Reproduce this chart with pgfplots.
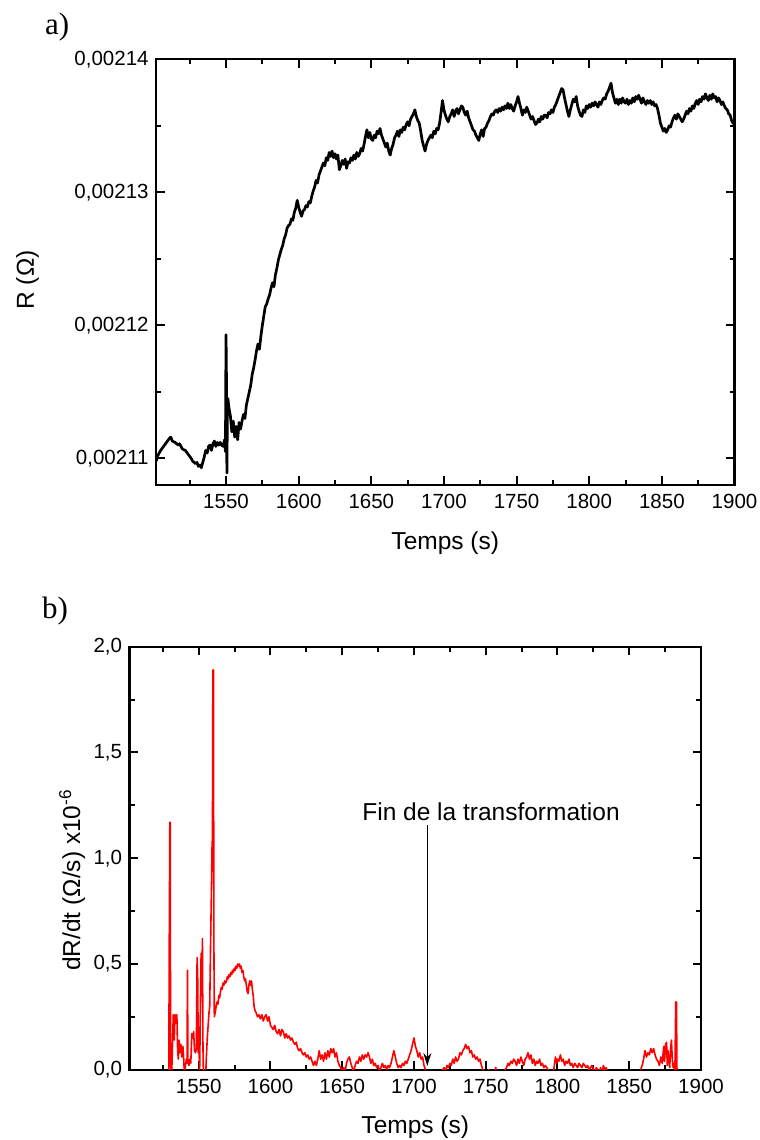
\documentclass[border=0pt]{standalone}
\usepackage{fontspec}
\setmainfont{Liberation Sans}
\newfontfamily\serifa{Liberation Serif}
\usepackage{pgfplots}
\pgfplotsset{compat=1.18}
\usetikzlibrary{arrows.meta}
\begin{document}
\begin{tikzpicture}
\path[use as bounding box] (0pt,0pt) rectangle (760pt,1140pt);
\pgfplotsset{
  myaxis/.style={
    scale only axis, anchor=south west,
    line width=2.2pt,
    axis line style={line width=2.2pt},
    tick style={black, line width=2pt},
    major tick length=8.5pt, minor tick length=5pt,
    tick align=inside,
    ticklabel style={font=\fontsize{20.5}{24}\selectfont},
    label style={font=\fontsize{24.5}{29}\selectfont},
    /pgf/number format/assume math mode=true,
    /pgf/number format/use comma,
    /pgf/number format/1000 sep={},
    xtick={1550,1600,...,1900},
    minor xtick={1525,1575,...,1875},
    xmin=1501.8, xmax=1900,
    x tick label style={yshift=-5pt},
    y tick label style={xshift=-3pt},
  }
}
% ---------------- a) ----------------
\node[anchor=base west, inner sep=0pt, font=\serifa\fontsize{31}{36}\selectfont] at (45pt,1105pt) {a)};
\begin{axis}[myaxis, at={(156pt,655pt)}, width=578.5pt, height=425.7pt,
  ymin=0.002108, ymax=0.00214,
  ytick={0.00211,0.00212,0.00213,0.00214},
  minor ytick={0.002115,0.002125,0.002135},
  scaled y ticks=false,
  yticklabel style={/pgf/number format/fixed, /pgf/number format/precision=5},
  xlabel={Temps (s)}, ylabel={R (Ω)},
  xlabel style={at={(axis description cs:0.5,-0.136)}, anchor=center},
  ylabel style={at={(axis description cs:-0.2222,0.4815)}, anchor=center},
]
\addplot[black, line width=2.7pt, line join=round] coordinates {
(1502,0.0021098) (1503,0.0021102) (1505,0.0021106) (1507,0.0021109) (1509,0.0021112) (1511,0.0021115)
(1512,0.0021116) (1513,0.0021113) (1515,0.0021112) (1517,0.0021110) (1518,0.0021111) (1520,0.0021107)
(1522,0.0021106) (1524,0.0021103) (1526,0.0021100) (1527,0.0021098) (1529,0.0021096) (1530,0.0021097)
(1531,0.0021094) (1532,0.0021095) (1533,0.0021093) (1535,0.0021101) (1536,0.0021106) (1537,0.0021104)
(1538,0.0021109) (1539,0.0021110) (1540,0.0021106) (1541,0.0021111) (1542,0.0021113) (1543,0.0021109)
(1544,0.0021112) (1545,0.0021110) (1546,0.0021112) (1547,0.0021110) (1548,0.0021109) (1549,0.0021114)
(1549.6,0.0021105) (1550.0,0.0021193) (1550.3,0.0021160) (1550.6,0.0021089) (1550.9,0.0021130) (1551.3,0.0021145)
(1552,0.0021138) (1553,0.0021132) (1554,0.0021120) (1555,0.0021128) (1556,0.0021116) (1557,0.0021124)
(1558,0.0021114) (1559,0.0021127) (1560,0.0021122) (1561,0.0021128) (1562,0.0021133) (1563,0.0021130)
(1564,0.0021140) (1565,0.0021145) (1566,0.0021150) (1567,0.0021155) (1568,0.0021163) (1569,0.0021168)
(1570,0.0021174) (1571,0.0021181) (1572,0.0021186) (1573,0.0021182) (1574,0.0021192) (1575,0.0021200)
(1576,0.0021207) (1577,0.0021214) (1578,0.0021216) (1579,0.0021220) (1580,0.0021223) (1581,0.0021228)
(1582,0.0021232) (1583,0.0021229) (1584,0.0021238) (1585,0.0021243) (1586,0.0021249) (1587,0.0021253)
(1588,0.0021257) (1589,0.0021260) (1590,0.0021265) (1591,0.0021268) (1592,0.0021273) (1593,0.0021275)
(1594,0.0021276) (1595,0.0021280) (1596,0.0021279) (1597,0.0021285) (1598,0.0021288) (1599,0.0021294)
(1600,0.0021289) (1601,0.0021285) (1602,0.0021282) (1603,0.0021286) (1604,0.0021287) (1605,0.0021290)
(1606,0.0021289) (1607,0.0021293) (1608,0.0021292) (1609,0.0021297) (1610,0.0021301) (1611,0.0021304)
(1612,0.0021309) (1613,0.0021307) (1614,0.0021313) (1615,0.0021316) (1616,0.0021319) (1617,0.0021322)
(1618,0.0021320) (1619,0.0021326) (1620,0.0021324) (1621,0.0021330) (1622,0.0021327) (1623,0.0021331)
(1624,0.0021326) (1625,0.0021329) (1626,0.0021325) (1627,0.0021328) (1628,0.0021317) (1629,0.0021320)
(1630,0.0021324) (1631,0.0021321) (1632,0.0021325) (1633,0.0021318) (1634,0.0021323) (1635,0.0021322)
(1636,0.0021326) (1637,0.0021324) (1638,0.0021328) (1639,0.0021325) (1640,0.0021330) (1641,0.0021327)
(1642,0.0021329) (1643,0.0021333) (1644,0.0021331) (1645,0.0021336) (1646,0.0021342) (1647,0.0021347)
(1648,0.0021341) (1649,0.0021345) (1650,0.0021340) (1651,0.0021339) (1652,0.0021343) (1653,0.0021341)
(1654,0.0021346) (1655,0.0021344) (1656,0.0021348) (1657,0.0021343) (1658,0.0021340) (1659,0.0021337)
(1660,0.0021334) (1661,0.0021337) (1662,0.0021331) (1663,0.0021328) (1664,0.0021333) (1665,0.0021336)
(1666,0.0021341) (1667,0.0021343) (1668,0.0021346) (1669,0.0021342) (1670,0.0021347) (1671,0.0021345)
(1672,0.0021349) (1673,0.0021347) (1674,0.0021351) (1675,0.0021353) (1676,0.0021350) (1677,0.0021355)
(1678,0.0021357) (1679,0.0021359) (1680,0.0021362) (1681,0.0021357) (1682,0.0021354) (1683,0.0021352)
(1684,0.0021346) (1685,0.0021339) (1686,0.0021335) (1687,0.0021331) (1688,0.0021336) (1689,0.0021339)
(1690,0.0021341) (1691,0.0021343) (1692,0.0021341) (1693,0.0021346) (1694,0.0021344) (1695,0.0021348)
(1696,0.0021347) (1697,0.0021352) (1698,0.0021360) (1699,0.0021369) (1700,0.0021362) (1701,0.0021358)
(1702,0.0021355) (1703,0.0021353) (1704,0.0021357) (1705,0.0021359) (1706,0.0021362) (1707,0.0021357)
(1708,0.0021361) (1709,0.0021363) (1710,0.0021359) (1711,0.0021362) (1712,0.0021365) (1713,0.0021364)
(1714,0.0021360) (1715,0.0021358) (1716,0.0021361) (1717,0.0021356) (1718,0.0021353) (1719,0.0021350)
(1720,0.0021347) (1721,0.0021346) (1722,0.0021343) (1723,0.0021341) (1724,0.0021339) (1725,0.0021344)
(1726,0.0021347) (1727,0.0021342) (1728,0.0021348) (1729,0.0021349) (1730,0.0021352) (1731,0.0021354)
(1732,0.0021357) (1733,0.0021359) (1734,0.0021358) (1735,0.0021361) (1736,0.0021362) (1737,0.0021360)
(1738,0.0021363) (1739,0.0021361) (1740,0.0021364) (1741,0.0021362) (1742,0.0021365) (1743,0.0021363)
(1744,0.0021367) (1745,0.0021363) (1746,0.0021366) (1747,0.0021363) (1748,0.0021361) (1749,0.0021365)
(1750,0.0021368) (1751,0.0021372) (1752,0.0021367) (1753,0.0021363) (1754,0.0021358) (1755,0.0021362)
(1756,0.0021360) (1757,0.0021364) (1758,0.0021361) (1759,0.0021358) (1760,0.0021355) (1761,0.0021357)
(1762,0.0021354) (1763,0.0021351) (1764,0.0021352) (1765,0.0021355) (1766,0.0021353) (1767,0.0021357)
(1768,0.0021355) (1769,0.0021358) (1770,0.0021358) (1771,0.0021356) (1772,0.0021360) (1773,0.0021359)
(1774,0.0021362) (1775,0.0021360) (1776,0.0021364) (1777,0.0021366) (1778,0.0021369) (1779,0.0021372)
(1780,0.0021375) (1781,0.0021378) (1782,0.0021377) (1783,0.0021371) (1784,0.0021366) (1785,0.0021361)
(1786,0.0021357) (1787,0.0021362) (1788,0.0021366) (1789,0.0021370) (1790,0.0021368) (1791,0.0021372)
(1792,0.0021365) (1793,0.0021361) (1794,0.0021358) (1795,0.0021357) (1796,0.0021362) (1797,0.0021360)
(1798,0.0021365) (1799,0.0021363) (1800,0.0021366) (1801,0.0021364) (1802,0.0021367) (1803,0.0021365)
(1804,0.0021368) (1805,0.0021366) (1806,0.0021364) (1807,0.0021368) (1808,0.0021366) (1809,0.0021369)
(1810,0.0021371) (1811,0.0021370) (1812,0.0021374) (1813,0.0021376) (1814,0.0021379) (1815,0.0021382)
(1816,0.0021375) (1817,0.0021371) (1818,0.0021367) (1819,0.0021370) (1820,0.0021366) (1821,0.0021370)
(1822,0.0021367) (1823,0.0021371) (1824,0.0021368) (1825,0.0021367) (1826,0.0021370) (1827,0.0021366)
(1828,0.0021369) (1829,0.0021367) (1830,0.0021371) (1831,0.0021368) (1832,0.0021372) (1833,0.0021370)
(1834,0.0021373) (1835,0.0021370) (1836,0.0021367) (1837,0.0021371) (1838,0.0021368) (1839,0.0021366)
(1840,0.0021369) (1841,0.0021367) (1842,0.0021369) (1843,0.0021366) (1844,0.0021368) (1845,0.0021365)
(1846,0.0021366) (1847,0.0021363) (1848,0.0021358) (1849,0.0021352) (1850,0.0021349) (1851,0.0021346)
(1852,0.0021348) (1853,0.0021345) (1854,0.0021347) (1855,0.0021350) (1856,0.0021349) (1857,0.0021353)
(1858,0.0021356) (1859,0.0021358) (1860,0.0021355) (1861,0.0021359) (1862,0.0021357) (1863,0.0021355)
(1864,0.0021353) (1865,0.0021355) (1866,0.0021358) (1867,0.0021361) (1868,0.0021359) (1869,0.0021363)
(1870,0.0021361) (1871,0.0021365) (1872,0.0021363) (1873,0.0021367) (1874,0.0021369) (1875,0.0021366)
(1876,0.0021370) (1877,0.0021368) (1878,0.0021372) (1879,0.0021370) (1880,0.0021374) (1881,0.0021371)
(1882,0.0021369) (1883,0.0021373) (1884,0.0021370) (1885,0.0021374) (1886,0.0021371) (1887,0.0021372)
(1888,0.0021368) (1889,0.0021371) (1890,0.0021369) (1891,0.0021366) (1892,0.0021368) (1893,0.0021365)
(1894,0.0021363) (1895,0.0021362) (1896,0.0021359) (1897,0.0021358) (1898,0.0021354) (1899,0.0021352)
(1900,0.0021351)
};
\end{axis}
% ---------------- b) ----------------
\node[anchor=base west, inner sep=0pt, font=\serifa\fontsize{31}{36}\selectfont] at (42pt,521pt) {b)};
\begin{axis}[myaxis, at={(129.5pt,70.3pt)}, width=571.5pt, height=423pt,
  ymin=0, ymax=2,
  ytick={0,0.5,1,1.5,2}, minor ytick={0.25,0.75,1.25,1.75},
  yticklabel style={/pgf/number format/fixed, /pgf/number format/fixed zerofill, /pgf/number format/precision=1},
  xlabel={Temps (s)}, ylabel={dR/dt (Ω/s) x10\textsuperscript{-6}},
  xlabel style={at={(axis description cs:0.5,-0.137)}, anchor=center},
  ylabel style={at={(axis description cs:-0.1002,0.448)}, anchor=center},
]
\addplot[red, line width=1.6pt, line join=round] coordinates {
(1528,-0.05) (1529.2,0.0) (1529.5,0.6) (1529.9,1.17) (1530.2,1.17) (1530.4,0.10) (1530.8,-0.1)
(1531.5,0.05) (1532.3,0.26) (1533,0.14) (1533.5,0.26) (1534.2,0.22) (1534.8,0.26) (1535.3,0.10)
(1535.8,0.05) (1536.3,0.14) (1537,0.08) (1537.6,0.12) (1538.3,0.06) (1539,0.11) (1539.6,0.05)
(1540.2,-0.05) (1540.8,0.02) (1541.4,0.05) (1541.9,0.03) (1542.2,0.47) (1542.5,0.05) (1543.2,0.02)
(1543.8,0.05) (1544.5,0.03) (1545.2,0.17) (1545.9,0.15) (1546.5,0.18) (1547.1,0.09) (1547.8,0.08)
(1548.4,0.10) (1548.9,0.53) (1549.3,0.45) (1549.7,0.08) (1550.2,0.20) (1550.6,-0.05) (1551.2,0.30)
(1551.7,0.55) (1552.2,0.35) (1552.6,0.62) (1553.0,0.10) (1553.5,-0.1) (1554.5,-0.1) (1555.3,0.05)
(1556,0.15) (1556.5,0.20) (1557.2,0.27) (1557.7,0.30) (1558.3,0.60) (1558.9,0.85) (1559.3,1.05)
(1559.6,1.10) (1559.9,1.89) (1560.3,1.89) (1560.6,0.60) (1560.9,0.25) (1561.5,0.27) (1562.2,0.30)
(1562.8,0.32) (1563.4,0.31) (1564,0.35) (1564.6,0.34) (1565.2,0.37) (1565.8,0.39) (1566.4,0.38)
(1567,0.41) (1567.6,0.40) (1568.2,0.42) (1568.8,0.41) (1569.4,0.42) (1570,0.44) (1570.6,0.43)
(1571.2,0.45) (1571.8,0.44) (1572.4,0.46) (1573,0.45) (1573.6,0.47) (1574.2,0.46) (1574.8,0.48)
(1575.4,0.47) (1576,0.49) (1576.6,0.48) (1577.2,0.50) (1577.8,0.49) (1578.4,0.50) (1579,0.48)
(1579.6,0.49) (1580.2,0.46) (1580.8,0.47) (1581.4,0.44) (1582,0.42) (1582.6,0.43) (1583.2,0.40)
(1583.8,0.37) (1584.4,0.36) (1585,0.40) (1585.6,0.42) (1586.2,0.40) (1586.8,0.42) (1587.4,0.38)
(1588,0.35) (1588.6,0.30) (1589.2,0.28) (1590,0.27) (1591,0.25) (1592,0.26) (1593,0.24) (1594,0.26)
(1595,0.23) (1596,0.25) (1597,0.26) (1598,0.23) (1599,0.25) (1600,0.21) (1601,0.20) (1602,0.19)
(1603,0.21) (1604,0.18) (1605,0.17) (1606,0.19) (1607,0.16) (1608,0.19) (1609,0.18) (1610,0.15)
(1611,0.17) (1612,0.15) (1613,0.16) (1614,0.14) (1615,0.15) (1616,0.13) (1617,0.12) (1618,0.13)
(1619,0.10) (1620,0.09) (1621,0.10) (1622,0.08) (1623,0.07) (1624,0.08) (1625,0.06) (1626,0.07)
(1627,0.05) (1628,0.06) (1629,0.04) (1630,0.02) (1631,0.04) (1632,0.02) (1633,0.05) (1634,0.09)
(1635,0.05) (1636,0.07) (1637,0.04) (1638,0.08) (1639,0.05) (1640,0.09) (1641,0.06) (1642,0.10)
(1643,0.08) (1644,0.10) (1645,0.06) (1646,0.08) (1647,0.04) (1648,0.02) (1649,0.01) (1650,-0.02)
(1651,0.01) (1652,-0.01) (1653,0.03) (1654,0.05) (1655,0.06) (1656,0.03) (1657,0.01) (1658,-0.01)
(1659,0.02) (1660,0.04) (1661,0.03) (1662,0.06) (1663,0.04) (1664,0.07) (1665,0.05) (1666,0.07)
(1667,0.06) (1668,0.08) (1669,0.06) (1670,0.03) (1671,0.05) (1672,0.02) (1673,0.03) (1674,0.01)
(1675,0.02) (1676,-0.01) (1677,0.01) (1678,0.03) (1679,0.01) (1680,0.02) (1681,0.00) (1682,0.02)
(1683,0.01) (1684,0.03) (1685,0.06) (1686,0.09) (1687,0.06) (1688,0.03) (1689,0.01) (1690,0.02)
(1691,0.01) (1692,0.03) (1693,0.02) (1694,0.04) (1695,0.03) (1696,0.05) (1697,0.07) (1698,0.09)
(1699,0.12) (1700,0.15) (1701,0.11) (1702,0.09) (1703,0.06) (1704,0.08) (1705,0.05) (1706,0.06)
(1707,0.02) (1708,0.00) (1709,-0.03) (1712,-0.05) (1718,-0.05) (1720,0.00) (1721,0.01) (1722,-0.01)
(1723,0.02) (1724,0.01) (1725,0.03) (1726,0.02) (1727,0.05) (1728,0.03) (1729,0.06) (1730,0.04)
(1731,0.05) (1732,0.08) (1733,0.07) (1734,0.09) (1735,0.10) (1736,0.12) (1737,0.10) (1738,0.11)
(1739,0.08) (1740,0.09) (1741,0.06) (1742,0.07) (1743,0.05) (1744,0.06) (1745,0.04) (1746,0.05)
(1747,0.02) (1748,0.00) (1749,-0.03) (1751,-0.04) (1752,0.00) (1753,-0.02) (1755,-0.04) (1757,0.01)
(1758,-0.03) (1762,-0.04) (1763.5,0.00) (1764.5,0.01) (1765.5,0.03) (1766.5,0.02) (1767.5,0.04)
(1768.5,0.03) (1769.5,0.05) (1770.5,0.04) (1771.5,0.02) (1772.5,0.05) (1773.5,0.03) (1774.5,0.06)
(1775.5,0.04) (1776.5,0.02) (1777.5,0.05) (1778.5,0.06) (1779.5,0.08) (1780.5,0.05) (1781.5,0.07)
(1782.5,0.03) (1783.5,0.05) (1784.5,0.02) (1785.5,0.04) (1786.5,0.03) (1787.5,0.05) (1788.5,0.02)
(1789.5,0.03) (1790.5,0.01) (1791.5,0.02) (1792.5,0.01) (1793.5,0.00) (1794.5,-0.04) (1797,-0.03)
(1797.8,0.02) (1798.6,0.06) (1799.4,0.03) (1800.2,0.05) (1801,0.04) (1802,0.07) (1803,0.04) (1804,0.05)
(1805,0.02) (1806,0.04) (1807,0.03) (1808,0.05) (1809,0.02) (1810,0.03) (1811,0.01) (1812,0.03)
(1813,0.02) (1814,0.01) (1815,0.03) (1816,0.02) (1817,0.01) (1818,0.03) (1819,0.02) (1820,0.01)
(1821,0.02) (1822,0.00) (1823,0.01) (1824,0.02) (1825,0.00) (1826,-0.02) (1827,0.01) (1828,0.00)
(1829,-0.02) (1830,0.01) (1831,-0.02) (1832,0.02) (1833,0.00) (1834,0.01) (1835,-0.04) (1857,-0.04)
(1858,0.00) (1859,0.02) (1860,0.05) (1861,0.09) (1862,0.06) (1863,0.08) (1864,0.07) (1865,0.10)
(1866,0.08) (1867,0.10) (1868,0.07) (1869,0.05) (1870,0.04) (1871,0.02) (1872,0.06) (1873,0.03)
(1874,0.11) (1874.6,0.04) (1875.3,0.12) (1876,0.13) (1876.5,0.02) (1877,0.09) (1877.6,0.05)
(1878.2,0.01) (1878.8,0.10) (1879.4,0.14) (1880,0.05) (1880.6,0.01) (1881.2,0.03) (1881.8,-0.02)
(1882.4,0.32) (1882.9,0.32) (1883.3,-0.05) (1885,-0.05)
};
\node[anchor=base, font=\fontsize{24.5}{29}\selectfont] at (axis cs:1753.7,1.18) {Fin de la transformation};
\draw[line width=1.4pt, -{Stealth[length=13pt,width=8pt]}] (axis cs:1709.3,1.157) -- (axis cs:1709.3,0.0175);
\end{axis}
\end{tikzpicture}
\end{document}
